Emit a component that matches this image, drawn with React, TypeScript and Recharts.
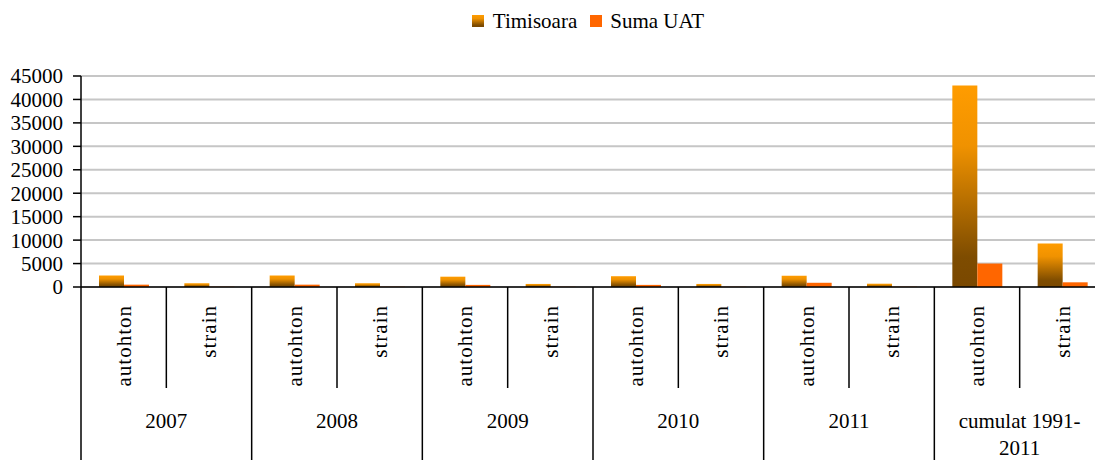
import React from "react";
import { BarChart, Bar, XAxis, YAxis, CartesianGrid, Legend } from "recharts";

const years = ["2007", "2008", "2009", "2010", "2011", "cumulat 1991-2011"];
const origins = ["autohton", "strain"];
const timisoaraAutohton = [2450, 2450, 2200, 2300, 2400, 43000];
const timisoaraStrain = [800, 800, 650, 650, 700, 9300];
const sumaAutohton = [500, 500, 450, 450, 900, 5000];
const sumaStrain = [60, 60, 50, 50, 60, 1000];
const yTicks = [0, 5000, 10000, 15000, 20000, 25000, 30000, 35000, 40000, 45000];

const data = years.flatMap((year, i) => [
  { id: `${year}-${origins[0]}`, year, origin: origins[0], timisoara: timisoaraAutohton[i], suma: sumaAutohton[i] },
  { id: `${year}-${origins[1]}`, year, origin: origins[1], timisoara: timisoaraStrain[i], suma: sumaStrain[i] },
]);

const FONT = "'Liberation Serif', 'Times New Roman', serif";
const PLOT_W = 1024;
const BAND = PLOT_W / data.length;
const AXIS_H = 173;

// wrap "cumulat 1991-2011" after the dash
const splitLabel = (s: string) => {
  const i = s.indexOf("-");
  return s.length > 10 && i > 0 ? [s.slice(0, i + 1), s.slice(i + 1)] : [s];
};

const XTick = (props: any) => {
  const { x, y, payload } = props;
  const row = data[payload.index];
  if (!row) return null;
  const half = BAND / 2;
  const first = row.origin === origins[0];
  const lines = splitLabel(row.year);
  return (
    <g>
      <text
        transform={`translate(${x},${y + 18}) rotate(-90)`}
        textAnchor="end"
        dy="0.35em"
        fontFamily={FONT}
        fontSize={21}
        letterSpacing={1}
        fill="#000"
      >
        {row.origin}
      </text>
      {payload.index === 0 && (
        <line x1={x - half} y1={y} x2={x - half} y2={y + AXIS_H} stroke="#000" strokeWidth={1.5} />
      )}
      <line
        x1={x + half}
        y1={y}
        x2={x + half}
        y2={first ? y + 101 : y + AXIS_H}
        stroke="#000"
        strokeWidth={1.5}
      />
      {first && (
        <text x={x + half} y={y + 141} textAnchor="middle" fontFamily={FONT} fontSize={21} fill="#000">
          {lines.map((l, k) => (
            <tspan key={k} x={x + half} dy={k === 0 ? 0 : 27}>
              {l}
            </tspan>
          ))}
        </text>
      )}
    </g>
  );
};

const LegendContent = () => (
  <div
    style={{
      display: "flex",
      justifyContent: "center",
      alignItems: "center",
      fontFamily: FONT,
      fontSize: 21,
      lineHeight: "24px",
      color: "#000",
    }}
  >
    <svg width={12} height={12} style={{ marginRight: 9 }}>
      <rect width={12} height={12} fill="url(#gradTim)" />
    </svg>
    <span style={{ marginRight: 13 }}>Timisoara</span>
    <svg width={12} height={12} style={{ marginRight: 8 }}>
      <rect width={12} height={12} fill="#FF6600" />
    </svg>
    <span>Suma UAT</span>
  </div>
);

export default function App() {
  return (
    <div style={{ width: 1079, height: 444 }}>
      <div
        style={{
          position: "fixed",
          top: 0,
          left: 0,
          width: 1095,
          height: 460,
          overflow: "hidden",
          background: "#fff",
        }}
      >
        <BarChart
          width={81 + PLOT_W + 2}
          height={460}
          data={data}
          margin={{ top: 76, right: 2, bottom: 0, left: 8 }}
          barCategoryGap={18}
          barGap={0}
          style={{ fontFamily: FONT }}
        >
          <defs>
            <linearGradient id="gradTim" x1="0" y1="0" x2="0" y2="1">
              <stop offset="0%" stopColor="#FF9C00" />
              <stop offset="30%" stopColor="#F09200" />
              <stop offset="85%" stopColor="#7E4C00" />
              <stop offset="100%" stopColor="#7A4800" />
            </linearGradient>
          </defs>
          <CartesianGrid vertical={false} stroke="#C6C6C6" strokeWidth={2} />
          <XAxis
            dataKey="id"
            interval={0}
            height={AXIS_H}
            tickLine={false}
            tickSize={0}
            tickMargin={0}
            axisLine={{ stroke: "#000", strokeWidth: 1.5 }}
            tick={<XTick />}
          />
          <YAxis
            width={73}
            domain={[0, 45000]}
            ticks={yTicks}
            interval={0}
            tickSize={8}
            tickMargin={10}
            axisLine={{ stroke: "#000", strokeWidth: 1.5 }}
            tickLine={{ stroke: "#000", strokeWidth: 1.5 }}
            tick={{ fontFamily: FONT, fontSize: 21, fill: "#000" }}
          />
          <Legend
            layout="horizontal"
            verticalAlign="middle"
            align="center"
            content={<LegendContent />}
            wrapperStyle={{ top: 9, left: 388, width: 400, height: 24 }}
          />
          <Bar dataKey="timisoara" name="Timisoara" fill="url(#gradTim)" isAnimationActive={false} />
          <Bar dataKey="suma" name="Suma UAT" fill="#FF6600" isAnimationActive={false} />
        </BarChart>
      </div>
    </div>
  );
}
